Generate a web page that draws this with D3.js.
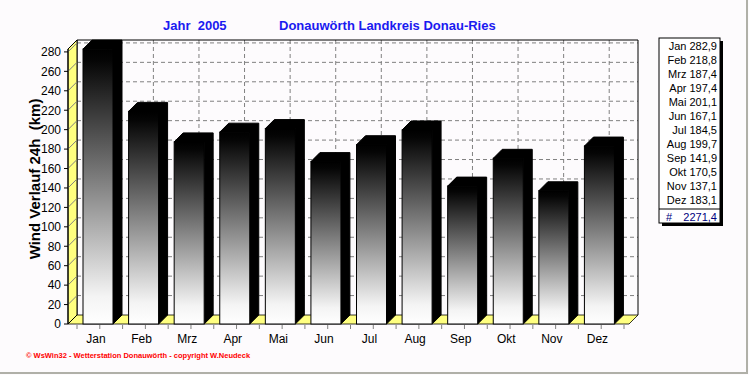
<!DOCTYPE html>
<html>
<head>
<meta charset="utf-8">
<script src="https://cdn.jsdelivr.net/npm/d3@7"></script>
<style>
  body { margin: 0; background: #fdfbfd; }
  text { font-family: "Liberation Sans", Arial, sans-serif; white-space: pre; }
</style>
</head>
<body>
<div id="chart"></div>
<script>

var months = ["Jan", "Feb", "Mrz", "Apr", "Mai", "Jun", "Jul", "Aug", "Sep", "Okt", "Nov", "Dez"];
var values = [282.9, 218.8, 187.4, 197.4, 201.1, 167.1, 184.5, 199.7, 141.9, 170.5, 137.1, 183.1];
var yTicks = [0, 20, 40, 60, 80, 100, 120, 140, 160, 180, 200, 220, 240, 260, 280];
var total = "2271,4";

var width = 749, height = 375;
// 3d depth offset
var dx = 9, dy = 9;

var svg = d3.select("#chart")
  .append("svg")
    .attr("width", width)
    .attr("height", height);

svg.append("rect")
  .attr("width", width).attr("height", height)
  .attr("fill", "#fdfbfd");

var x = d3.scaleBand()
  .domain(months)
  .range([77, 624]);

var y = d3.scaleLinear()
  .domain([0, 283])
  .range([324, 49]);

var defs = svg.append("defs");
var grad = defs.append("linearGradient")
  .attr("id", "barGrad")
  .attr("x1", 0).attr("y1", 0).attr("x2", 0).attr("y2", 1);
grad.append("stop").attr("offset", 0).attr("stop-color", "#000");
grad.append("stop").attr("offset", 0.04).attr("stop-color", "#050505");
grad.append("stop").attr("offset", 0.9).attr("stop-color", "#f4f4f4");
grad.append("stop").attr("offset", 1).attr("stop-color", "#fff");

var x0 = 68, x1 = 629;   // front floor edge
var y0 = y(0), yTop = y(283);

// back wall
svg.append("rect")
  .attr("x", x0 + dx).attr("y", yTop - dy)
  .attr("width", x1 - x0).attr("height", y0 - yTop)
  .attr("fill", "#fdfbfd");

// horizontal grid on back wall
svg.selectAll(".hgrid")
  .data(yTicks.filter(function(d){ return d > 0; }))
  .enter().append("line")
    .attr("class", "hgrid")
    .attr("x1", x0 + dx).attr("x2", x1 + dx)
    .attr("y1", function(d){ return y(d) - dy; })
    .attr("y2", function(d){ return y(d) - dy; })
    .attr("stroke", "#808080")
    .attr("stroke-dasharray", "4,3");

// vertical grid on back wall
svg.selectAll(".vgrid")
  .data(months)
  .enter().append("line")
    .attr("class", "vgrid")
    .attr("x1", function(d){ return x(d) + x.bandwidth() / 2 + dx - 1; })
    .attr("x2", function(d){ return x(d) + x.bandwidth() / 2 + dx - 1; })
    .attr("y1", yTop - dy).attr("y2", y0 - dy)
    .attr("stroke", "#808080")
    .attr("stroke-dasharray", "4,3");

// back wall border
svg.append("path")
  .attr("d", "M" + (x0 + dx) + "," + (y0 - dy) + "V" + (yTop - dy) + "H" + (x1 + dx) + "V" + (y0 - dy))
  .attr("fill", "none")
  .attr("stroke", "#000");

// floor
svg.append("path")
  .attr("d", "M" + x0 + "," + y0 + "L" + x1 + "," + y0 + "L" + (x1 + dx) + "," + (y0 - dy) +
    "L" + (x0 + dx) + "," + (y0 - dy) + "Z")
  .attr("fill", "#ffff80")
  .attr("stroke", "#000")
  .attr("stroke-width", 0.8);

// left side wall
svg.append("path")
  .attr("d", "M" + x0 + "," + y0 + "L" + (x0 + dx) + "," + (y0 - dy) + "L" + (x0 + dx) + "," + (yTop - dy) +
    "L" + x0 + "," + yTop + "Z")
  .attr("fill", "#ffff80")
  .attr("stroke", "#000");

svg.selectAll(".sgrid")
  .data(yTicks.filter(function(d){ return d > 0; }))
  .enter().append("line")
    .attr("class", "sgrid")
    .attr("x1", x0).attr("x2", x0 + dx)
    .attr("y1", function(d){ return y(d); })
    .attr("y2", function(d){ return y(d) - dy; })
    .attr("stroke", "#808080");

// bars
var bw = 30, off = 6;
var bars = svg.selectAll(".bar")
  .data(months.map(function(m, i){ return { m: m, v: values[i] }; }))
  .enter().append("g")
    .attr("class", "bar");

bars.append("path")
  .attr("d", function(d){
    var l = x(d.m) + off, r = l + bw, t = y(d.v);
    return "M" + r + "," + y0 + "L" + (r + dx) + "," + (y0 - dy) + "L" + (r + dx) + "," + (t - dy) +
      "L" + (l + dx) + "," + (t - dy) + "L" + l + "," + t + "L" + r + "," + t + "Z";
  })
  .attr("fill", "#000")
  .attr("stroke", "#000");

bars.append("rect")
  .attr("x", function(d){ return x(d.m) + off; })
  .attr("y", function(d){ return y(d.v); })
  .attr("width", bw)
  .attr("height", function(d){ return y0 - y(d.v); })
  .attr("fill", "url(#barGrad)")
  .attr("stroke", "#000");

// y axis
svg.append("line")
  .attr("x1", x0).attr("x2", x0)
  .attr("y1", y0).attr("y2", yTop)
  .attr("stroke", "#000");

svg.selectAll(".ytick")
  .data(yTicks)
  .enter().append("line")
    .attr("x1", x0 - 4).attr("x2", x0)
    .attr("y1", function(d){ return y(d); })
    .attr("y2", function(d){ return y(d); })
    .attr("stroke", "#000");

svg.selectAll(".ylab")
  .data(yTicks)
  .enter().append("text")
    .attr("x", 61)
    .attr("y", function(d){ return y(d); })
    .attr("dy", "0.36em")
    .attr("text-anchor", "end")
    .attr("font-size", "12px")
    .text(function(d){ return d; });

// x ticks (band edges and centres)
var xt = [];
months.forEach(function(m){ xt.push(x(m)); xt.push(x(m) + x.bandwidth() / 2); });
xt.push(x.range()[1]);
svg.selectAll(".xtick")
  .data(xt)
  .enter().append("line")
    .attr("x1", function(d){ return d; }).attr("x2", function(d){ return d; })
    .attr("y1", y0 + 1).attr("y2", y0 + 5)
    .attr("stroke", "#808080");

svg.selectAll(".xlab")
  .data(months)
  .enter().append("text")
    .attr("x", function(d){ return x(d) + off + bw / 2 - 2; })
    .attr("y", 343)
    .attr("text-anchor", "middle")
    .attr("font-size", "12px")
    .text(function(d){ return d; });

// axis title
svg.append("text")
  .attr("transform", "translate(40,179) rotate(-90)")
  .attr("text-anchor", "middle")
  .attr("font-size", "15px")
  .attr("font-weight", "bold")
  .text("Wind Verlauf 24h  (km)");

// titles
svg.append("text")
  .attr("x", 163).attr("y", 30)
  .attr("font-size", "13px").attr("font-weight", "bold")
  .attr("fill", "#1a1af0")
  .text("Jahr  2005");

svg.append("text")
  .attr("x", 279).attr("y", 30)
  .attr("font-size", "13px").attr("font-weight", "bold")
  .attr("fill", "#1a1af0")
  .text("Donauwörth Landkreis Donau-Ries");

// legend
var lx = 659, ly = 38, lw = 61, lh = 185;
svg.append("rect")
  .attr("x", lx + 3).attr("y", ly + 3)
  .attr("width", lw).attr("height", lh)
  .attr("fill", "#000");
svg.append("rect")
  .attr("x", lx).attr("y", ly)
  .attr("width", lw).attr("height", lh)
  .attr("fill", "#fff")
  .attr("stroke", "#000");

svg.selectAll(".leg")
  .data(months)
  .enter().append("text")
    .attr("x", 717)
    .attr("y", function(d, i){ return 46 + i * 14; })
    .attr("dy", "0.36em")
    .attr("text-anchor", "end")
    .attr("font-size", "11px")
    .text(function(d, i){ return d + " " + String(values[i]).replace(".", ","); });

svg.append("line")
  .attr("x1", lx).attr("x2", lx + lw)
  .attr("y1", 209).attr("y2", 209)
  .attr("stroke", "#000");

svg.append("text")
  .attr("x", 666).attr("y", 221)
  .attr("font-size", "11px").attr("fill", "#000080")
  .text("#");
svg.append("text")
  .attr("x", 717).attr("y", 221)
  .attr("text-anchor", "end")
  .attr("font-size", "11px").attr("fill", "#000080")
  .text(total);

// footer
svg.append("text")
  .attr("x", 26).attr("y", 358)
  .attr("font-size", "7.5px")
  .attr("font-weight", "bold")
  .attr("fill", "#ff0000")
  .text("© WsWin32 - Wetterstation Donauwörth - copyright W.Neudeck");

// frame
svg.append("path")
  .attr("d", "M747,0V373H0")
  .attr("fill", "none")
  .attr("stroke", "#b0b0a8")
  .attr("stroke-width", 2);

</script>
</body>
</html>
